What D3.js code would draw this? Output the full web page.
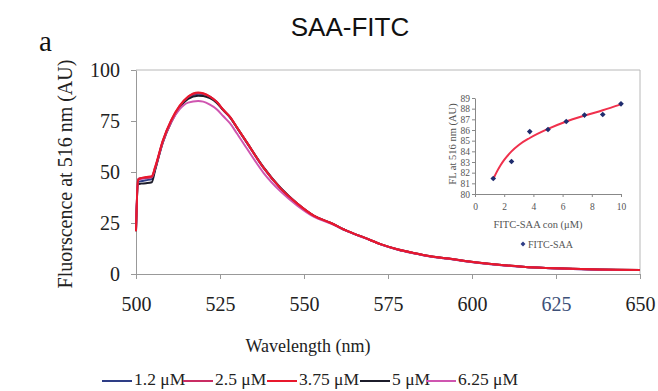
<!DOCTYPE html>
<html>
<head>
<meta charset="utf-8">
<script src="https://cdn.jsdelivr.net/npm/d3@7"></script>
<style>
  body { margin: 0; background: #fff; }
  svg { display: block; }
</style>
</head>
<body>
<div id="chart"></div>
<script>
const wavelengths = [500, 500.6, 501.5, 503, 504.7, 505.7, 508, 510.5, 513, 515.5, 518.5, 520, 522, 524, 526, 528, 530, 533, 538, 543, 548, 553, 558, 563, 568, 573, 578, 583, 588, 593, 598, 605, 615, 625, 635, 650];

const fl_1_2 = [21.5, 45, 45.5, 46, 46.5, 51.5, 65, 75, 82, 86.5, 88.4, 88.2, 86.8, 84.2, 80.3, 76.8, 71.8, 64.3, 51.9, 42, 34.4, 28.4, 24.9, 20.9, 17.7, 14.4, 11.9, 10.1, 8.5, 7.5, 6.3, 4.9, 3.5, 2.7, 2.2, 1.9];
const fl_2_5 = [22, 46.5, 47, 47, 47.5, 52, 65.3, 75.3, 82.3, 86.8, 88.7, 88.4, 86.9, 84.4, 80.4, 76.9, 71.9, 64.4, 52, 42.1, 34.5, 28.5, 25, 21, 17.8, 14.5, 12, 10.2, 8.6, 7.6, 6.4, 5, 3.6, 2.8, 2.3, 2];
const fl_3_75 = [21, 46, 47, 47.5, 48, 52.5, 65.5, 75.5, 82.5, 87, 89, 88.6, 87, 84.5, 80.5, 77, 72, 64.5, 52, 42, 34.5, 28.5, 25, 21, 17.8, 14.5, 12, 10.2, 8.6, 7.6, 6.4, 5, 3.6, 2.8, 2.3, 2];
const fl_5 = [21, 44, 44.3, 44.5, 45, 51, 64.5, 74.5, 81.5, 85.8, 87.4, 87.3, 86.2, 84, 80.2, 76.8, 71.9, 64.5, 52.3, 42.3, 34.6, 28.5, 25, 21, 17.8, 14.5, 12, 10.2, 8.6, 7.6, 6.4, 5, 3.6, 2.8, 2.3, 2];
const fl_6_25 = [22, 46, 46.5, 47, 47.5, 52, 64.8, 74.5, 80.8, 84, 84.8, 84.5, 83, 80.8, 77.3, 73.8, 69, 61.5, 49.5, 40.5, 33.5, 28, 24.7, 20.9, 17.7, 14.4, 11.9, 10.1, 8.5, 7.5, 6.3, 4.9, 3.5, 2.7, 2.2, 1.9];

const seriesNames = ["1.2 \u03bcM", "2.5 \u03bcM", "3.75 \u03bcM", "5 \u03bcM", "6.25 \u03bcM"];
const seriesColors = ["#2e3d86", "#c92c63", "#e8182c", "#1c1c2a", "#cf55b0"];

const xTicks = [500, 525, 550, 575, 600, 625, 650];
const yTicks = [0, 25, 50, 75, 100];

// inset: FL at 516 nm vs FITC-SAA concentration
const insetConc = [1.25, 2.5, 3.75, 5, 6.25, 7.5, 8.75, 10];
const insetFL = [81.45, 83.05, 85.85, 86.05, 86.8, 87.4, 87.45, 88.45];
const fitConc = [1.25, 1.5, 1.75, 2, 2.5, 3, 3.75, 5, 6.25, 7.5, 8.75, 10];
const fitFL = [81.4, 82.1, 82.7, 83.2, 84.0, 84.6, 85.25, 86.1, 86.8, 87.35, 87.85, 88.4];
const insetXTicks = [0, 2, 4, 6, 8, 10];
const insetYTicks = [80, 81, 82, 83, 84, 85, 86, 87, 88, 89];

(function () {
  const W = 658, H = 391;
  const margin = { top: 70, left: 136 };
  const width = 504;
  const height = 204;
  const serif = "'Liberation Serif', 'DejaVu Serif', serif";
  const sans = "'Liberation Sans', Arial, sans-serif";

  const svg = d3.select("#chart").append("svg").attr("width", W).attr("height", H);

  svg.append("text")
    .attr("x", 350).attr("y", 36)
    .attr("text-anchor", "middle")
    .attr("font-family", sans).attr("font-size", 26)
    .attr("fill", "#111")
    .text("SAA-FITC");

  svg.append("text")
    .attr("x", 39).attr("y", 51)
    .attr("font-family", serif).attr("font-size", 29)
    .attr("fill", "#111")
    .text("a");

  const x = d3.scaleLinear().domain([500, 650]).range([0, width]);
  const y = d3.scaleLinear().domain([0, 100]).range([height, 0]);

  const g = svg.append("g").attr("transform", `translate(${margin.left},${margin.top})`);

  // plot frame (top + right)
  g.append("path")
    .attr("d", `M0,0H${width}V${height}`)
    .attr("fill", "none").attr("stroke", "#b8b8b8").attr("stroke-width", 1);

  const xAxis = g.append("g")
    .attr("transform", `translate(0,${height})`)
    .call(d3.axisBottom(x).tickValues(xTicks).tickSize(5).tickPadding(18).tickSizeOuter(0));
  const yAxis = g.append("g")
    .call(d3.axisLeft(y).tickValues(yTicks).tickSize(5).tickPadding(11).tickSizeOuter(0));

  [xAxis, yAxis].forEach((ax) => {
    ax.select(".domain").attr("stroke", "#999");
    ax.selectAll(".tick line").attr("stroke", "#999");
    ax.selectAll(".tick text")
      .attr("font-family", serif).attr("font-size", 20).attr("fill", "#222");
  });
  xAxis.selectAll(".tick text").filter((d) => d === 625).attr("fill", "#3d5078");

  svg.append("text")
    .attr("transform", "translate(72,174) rotate(-90)")
    .attr("text-anchor", "middle")
    .attr("font-family", serif).attr("font-size", 20)
    .attr("fill", "#222")
    .text("Fluorscence at 516 nm (AU)");

  svg.append("text")
    .attr("x", 308).attr("y", 352)
    .attr("text-anchor", "middle")
    .attr("font-family", serif).attr("font-size", 18)
    .attr("fill", "#222")
    .text("Wavelength (nm)");

  const allSeries = [fl_1_2, fl_2_5, fl_3_75, fl_5, fl_6_25];
  const line = d3.line()
    .x((d) => x(d[0]))
    .y((d) => y(d[1]))
    .curve(d3.curveMonotoneX);

  // draw order so red/crimson sit on top, like the original
  [0, 3, 4, 1, 2].forEach((i) => {
    g.append("path")
      .datum(wavelengths.map((w, j) => [w, allSeries[i][j]]))
      .attr("fill", "none")
      .attr("stroke", seriesColors[i])
      .attr("stroke-width", 2)
      .attr("stroke-linejoin", "round")
      .attr("d", line);
  });

  // Inset
  const ix = d3.scaleLinear().domain([0, 10]).range([475, 621]);
  const iy = d3.scaleLinear().domain([80, 89]).range([194, 98]);
  const inset = svg.append("g");

  const ixAxis = inset.append("g")
    .attr("transform", `translate(0,${iy(80)})`)
    .call(d3.axisBottom(ix).tickValues(insetXTicks).tickSize(3).tickPadding(6).tickSizeOuter(0));
  const iyAxis = inset.append("g")
    .attr("transform", `translate(${ix(0)},0)`)
    .call(d3.axisLeft(iy).tickValues(insetYTicks).tickSize(3).tickPadding(2).tickSizeOuter(0));
  [ixAxis, iyAxis].forEach((ax) => {
    ax.select(".domain").attr("stroke", "#888");
    ax.selectAll(".tick line").attr("stroke", "#888");
    ax.selectAll(".tick text")
      .attr("font-family", serif).attr("font-size", 9.5).attr("fill", "#555");
  });

  inset.append("path")
    .datum(fitConc.map((c, i) => [c, fitFL[i]]))
    .attr("fill", "none")
    .attr("stroke", "#f0304c")
    .attr("stroke-width", 2)
    .attr("d", d3.line().x((d) => ix(d[0])).y((d) => iy(d[1])).curve(d3.curveMonotoneX));

  const marker = d3.symbol().type(d3.symbolSquare).size(16)();
  inset.selectAll(".pt")
    .data(insetConc.map((c, i) => [c, insetFL[i]]))
    .join("path")
    .attr("class", "pt")
    .attr("d", marker)
    .attr("transform", (d) => `translate(${ix(d[0])},${iy(d[1])}) rotate(45)`)
    .attr("fill", "#1f2c6e");

  inset.append("text")
    .attr("transform", "translate(456,144) rotate(-90)")
    .attr("text-anchor", "middle")
    .attr("font-family", serif).attr("font-size", 10.5)
    .attr("fill", "#555")
    .text("FL at 516 nm (AU)");

  inset.append("text")
    .attr("x", 538).attr("y", 228)
    .attr("text-anchor", "middle")
    .attr("font-family", serif).attr("font-size", 10.5)
    .attr("fill", "#555")
    .text("FITC-SAA con (\u03bcM)");

  inset.append("path")
    .attr("d", d3.symbol().type(d3.symbolSquare).size(12)())
    .attr("transform", "translate(523,244) rotate(45)")
    .attr("fill", "#2e3d86");
  inset.append("text")
    .attr("x", 528).attr("y", 247.5)
    .attr("font-family", serif).attr("font-size", 10)
    .attr("fill", "#555")
    .text("FITC-SAA");

  // bottom legend
  const legendX = [102, 183, 267, 360, 426];
  const legend = svg.append("g");
  seriesNames.forEach((name, i) => {
    legend.append("line")
      .attr("x1", legendX[i]).attr("x2", legendX[i] + 30)
      .attr("y1", 381).attr("y2", 381)
      .attr("stroke", seriesColors[i]).attr("stroke-width", 2);
    legend.append("text")
      .attr("x", legendX[i] + 32).attr("y", 385)
      .attr("font-family", serif).attr("font-size", 17.5)
      .attr("fill", "#222")
      .text(name);
  });
})();
</script>
</body>
</html>
